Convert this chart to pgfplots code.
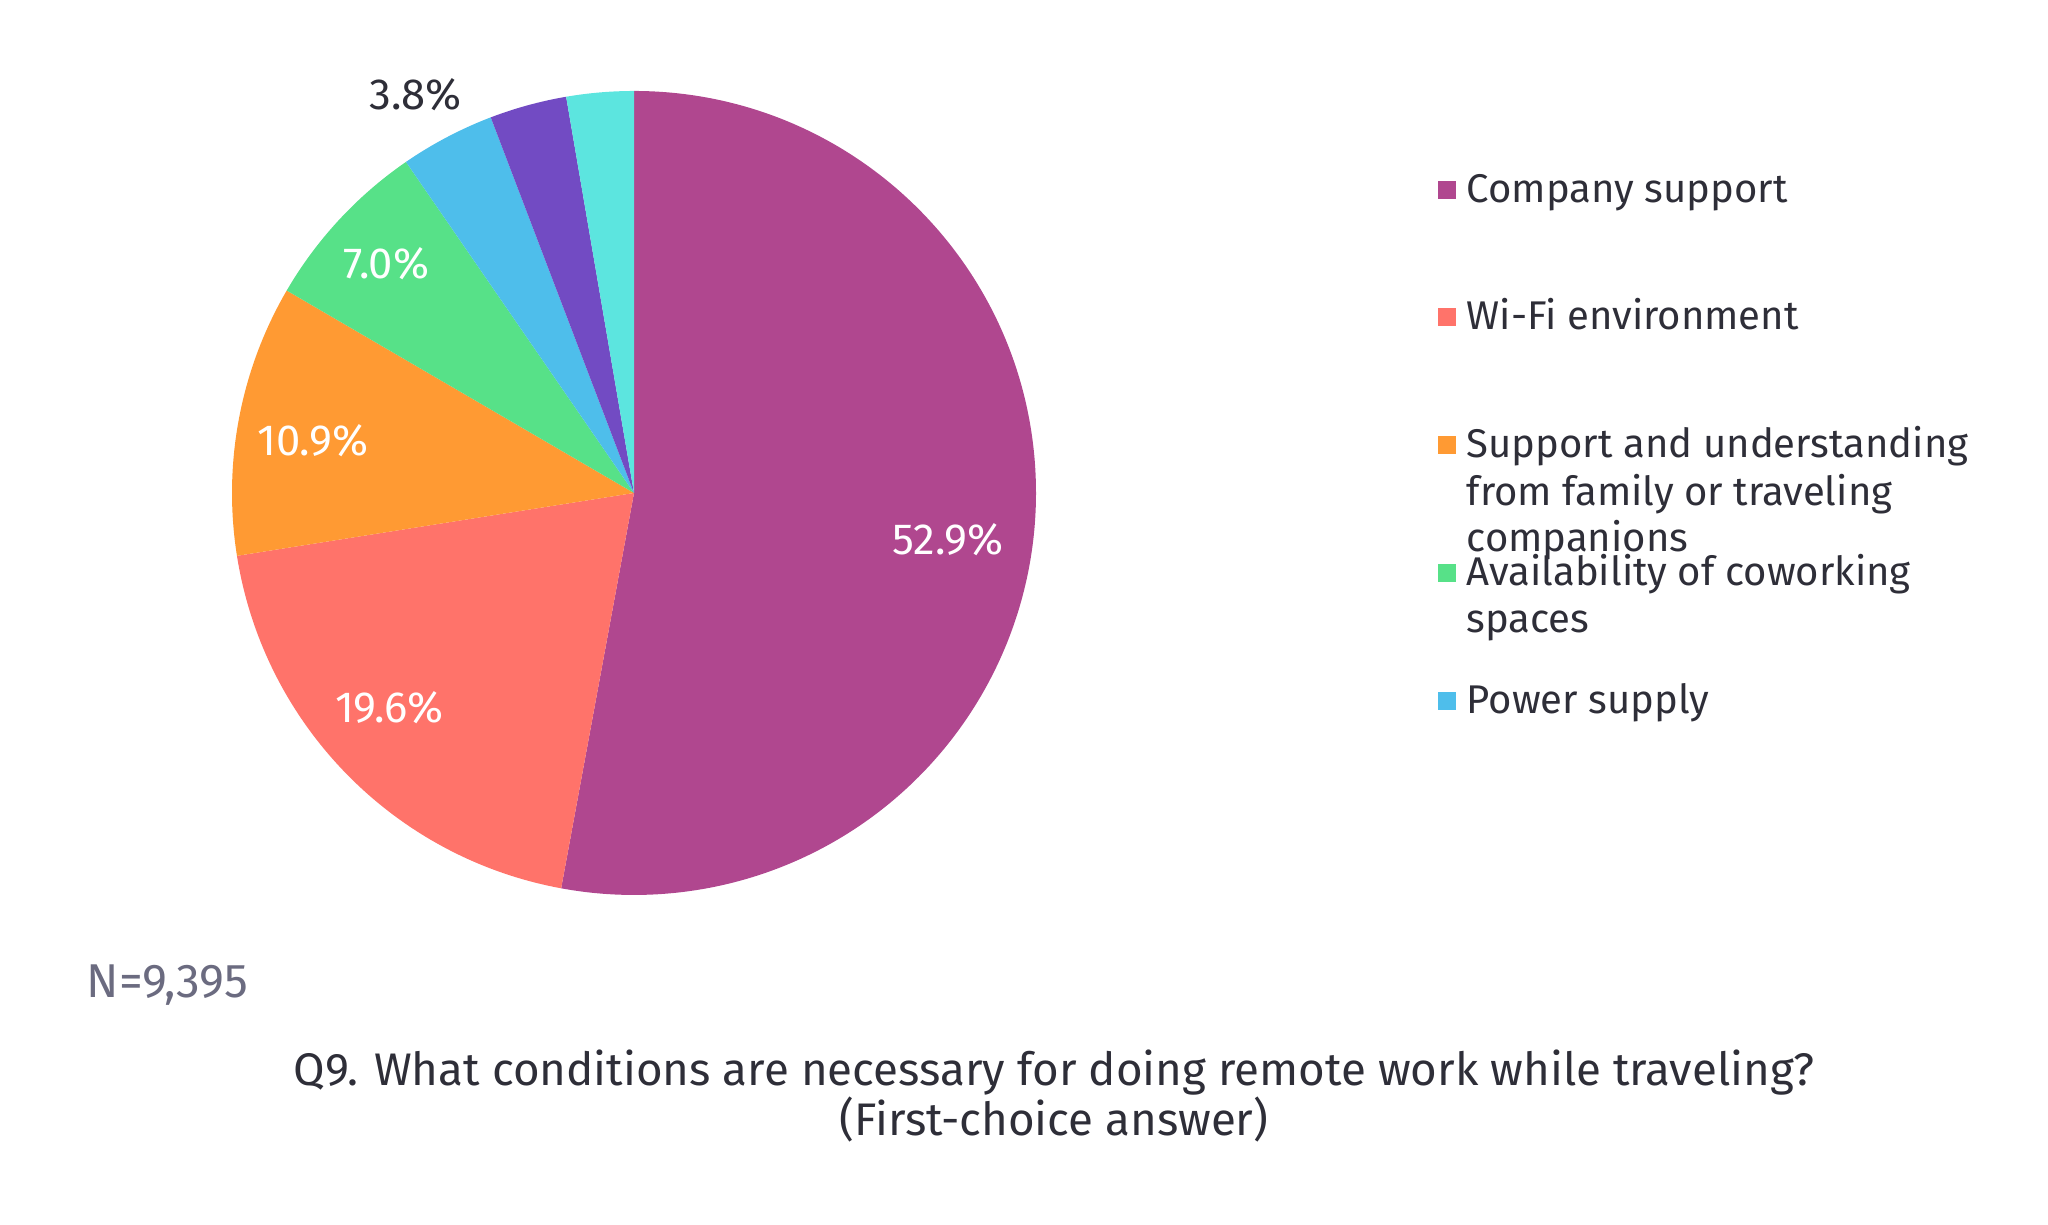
\documentclass[border=0pt]{standalone}
\usepackage{pgfplots}
\pgfplotsset{compat=1.18}
\usepackage{pgfplotstable}
\usepackage{fontspec}
\setmainfont{Fira Sans}

\definecolor{cCompany}{HTML}{B0478F}
\definecolor{cWifi}{HTML}{FF736A}
\definecolor{cFamily}{HTML}{FF9A33}
\definecolor{cCowork}{HTML}{57E188}
\definecolor{cPower}{HTML}{4EBEEB}
\definecolor{cPurple}{HTML}{724BC3}
\definecolor{cCyan}{HTML}{5CE5DF}
\definecolor{txt}{HTML}{2E2E38}
\definecolor{ntxt}{HTML}{6B6B80}

\newcommand\pctfont{\fontsize{12.4}{14}\selectfont}
\newcommand\legfont{\fontsize{11.4}{13}\selectfont}

% share (%), colour, label style (1 inside, 2 outside, 0 none),
% label radius (fraction of R), label angle shift (deg)
\pgfplotstableread[col sep=comma]{
pct,col,lab,lr,da
52.9,cCompany,1,0.79,-3.3
19.6,cWifi,1,0.81,-3.0
10.9,cFamily,1,0.81,1.4
7.0,cCowork,1,0.84,0
3.8,cPower,2,1.13,1.0
3.1,cPurple,0,0,0
2.7,cCyan,0,0,0
}\piedata

\def\cx{6.34}
\def\cy{7.32}
\def\R{4.02}

\begin{document}
\begin{tikzpicture}
\path (0,0) rectangle (20.48,12.25);

% build the slices from the table
\gdef\slices{}
\gdef\labels{}
\gdef\cur{90}
\pgfplotstablegetrowsof{\piedata}
\pgfmathtruncatemacro\nrows{\pgfplotsretval-1}
\pgfplotsforeachungrouped \i in {0,...,\nrows}{%
  \pgfplotstablegetelem{\i}{pct}\of\piedata \edef\pv{\pgfplotsretval}%
  \pgfplotstablegetelem{\i}{col}\of\piedata \edef\cv{\pgfplotsretval}%
  \pgfplotstablegetelem{\i}{lab}\of\piedata \edef\lv{\pgfplotsretval}%
  \pgfplotstablegetelem{\i}{lr}\of\piedata \edef\lrv{\pgfplotsretval}%
  \pgfplotstablegetelem{\i}{da}\of\piedata \edef\dav{\pgfplotsretval}%
  \pgfmathsetmacro\endang{\cur-3.6*\pv}%
  \pgfmathsetmacro\midang{(\cur+\endang)/2+\dav}%
  \pgfmathsetmacro\sx{\cx+\R*cos(\cur)}%
  \pgfmathsetmacro\sy{\cy+\R*sin(\cur)}%
  \xdef\slices{\unexpanded\expandafter{\slices}%
    \noexpand\fill[\cv] (axis cs:\cx,\cy) -- (axis cs:\sx,\sy)
      arc[start angle=\cur, end angle=\endang, radius=\R cm] -- cycle;}%
  \pgfmathsetmacro\lx{\cx+\lrv*\R*cos(\midang)}%
  \pgfmathsetmacro\ly{\cy+\lrv*\R*sin(\midang)}%
  \ifnum\lv=1
    \xdef\labels{\unexpanded\expandafter{\labels}%
      \noexpand\node[white, font=\noexpand\pctfont] at (axis cs:\lx,\ly) {\pv\noexpand\%};}%
  \fi
  \ifnum\lv=2
    \xdef\labels{\unexpanded\expandafter{\labels}%
      \noexpand\node[txt, font=\noexpand\pctfont] at (axis cs:\lx,\ly) {\pv\noexpand\%};}%
  \fi
  \xdef\cur{\endang}%
}

\begin{axis}[
    x=1cm, y=1cm,
    xmin=0, xmax=20.48, ymin=0, ymax=12.25,
    hide axis,
    at={(0,0)}, anchor=south west,
    clip=false
]
\slices
\labels

% legend
\fill[cCompany] (axis cs:14.38,10.26) rectangle (axis cs:14.56,10.44);
\fill[cWifi]    (axis cs:14.38,8.99)  rectangle (axis cs:14.56,9.17);
\fill[cFamily]  (axis cs:14.38,7.71)  rectangle (axis cs:14.56,7.89);
\fill[cCowork]  (axis cs:14.38,6.43)  rectangle (axis cs:14.56,6.61);
\fill[cPower]   (axis cs:14.38,5.15)  rectangle (axis cs:14.56,5.33);

\node[txt, anchor=base west, inner sep=0, font=\legfont] at (axis cs:14.66,10.22) {Company support};
\node[txt, anchor=base west, inner sep=0, font=\legfont] at (axis cs:14.66,8.95) {Wi-Fi environment};
\node[txt, anchor=base west, inner sep=0, font=\legfont] at (axis cs:14.66,7.67) {Support and understanding};
\node[txt, anchor=base west, inner sep=0, font=\legfont] at (axis cs:14.66,7.19) {from family or traveling};
\node[txt, anchor=base west, inner sep=0, font=\legfont] at (axis cs:14.66,6.73) {companions};
\node[txt, anchor=base west, inner sep=0, font=\legfont] at (axis cs:14.66,6.39) {Availability of coworking};
\node[txt, anchor=base west, inner sep=0, font=\legfont] at (axis cs:14.66,5.92) {spaces};
\node[txt, anchor=base west, inner sep=0, font=\legfont] at (axis cs:14.66,5.11) {Power supply};

\node[ntxt, anchor=west, inner sep=0, font=\fontsize{13.5}{15}\selectfont]
  at (axis cs:0.86,2.40) {N=9,395};

\node[txt, align=center, inner sep=0, font=\fontsize{13}{14.5}\selectfont]
  at (axis cs:10.54,1.29)
  {Q9. What conditions are necessary for doing remote work while traveling?\\
   (First-choice answer)};
\end{axis}
\end{tikzpicture}
\end{document}
